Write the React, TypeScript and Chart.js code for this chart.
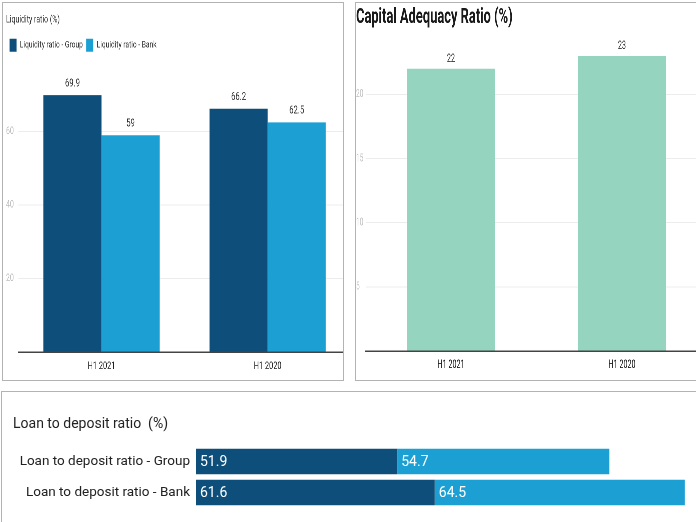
import React, { useEffect, useRef } from 'react';
import { Chart, registerables } from 'chart.js';

Chart.register(...registerables);

// ---- data ----
const periods = ['H1 2021', 'H1 2020'];
const liquidityGroup = [69.9, 66.2];
const liquidityBank = [59, 62.5];
const liquidityTicks = [20, 40, 60];

const capitalAdequacy = [22, 23];
const capitalTicks = [5, 10, 15, 20];

const loanCategories = ['Loan to deposit ratio - Group', 'Loan to deposit ratio - Bank'];
const loanH12021 = [51.9, 61.6];
const loanH12020 = [54.7, 64.5];

// ---- styles ----
const DARK = '#0d4f7a';
const LIGHT = '#1ca0d4';
const GREEN = '#95d5bf';
const ROBOTO = 'Roboto, "Noto Sans", sans-serif';

// horizontal squeeze of the two upper panels (their lettering is narrow)
const SQ_LEFT = 0.7;
const SQ_RIGHT = 0.6;

const valueLabels = {
  id: 'valueLabels',
  afterDatasetsDraw(chart: any, _args: any, opts: any) {
    const { ctx } = chart;
    chart.data.datasets.forEach((ds: any, i: number) => {
      const meta = chart.getDatasetMeta(i);
      meta.data.forEach((el: any, j: number) => {
        const v = ds.data[j];
        const p = el.getProps(['x', 'y', 'base'], true);
        ctx.save();
        ctx.font = opts.font;
        ctx.fillStyle = opts.color;
        if (opts.mode === 'top') {
          ctx.textAlign = 'center';
          ctx.textBaseline = 'bottom';
          ctx.fillText(String(v), p.x, p.y - opts.offset);
        } else {
          ctx.textAlign = 'left';
          ctx.textBaseline = 'middle';
          ctx.fillText(String(v), p.base + opts.offset, p.y + 1);
        }
        ctx.restore();
      });
    });
  },
};

function useChart(ref: React.RefObject<HTMLCanvasElement | null>, makeConfig: () => any) {
  useEffect(() => {
    if (!ref.current) return;
    const chart = new Chart(ref.current, makeConfig());
    return () => chart.destroy();
  }, []);
}

function LiquidityChart() {
  const ref = useRef<HTMLCanvasElement>(null);
  const W = 514;
  const H = 377;
  useChart(ref, () => ({
    type: 'bar',
    plugins: [valueLabels],
    data: {
      labels: periods,
      datasets: [
        { label: 'Liquidity ratio - Group', data: liquidityGroup, backgroundColor: DARK, categoryPercentage: 0.7, barPercentage: 1 },
        { label: 'Liquidity ratio - Bank', data: liquidityBank, backgroundColor: LIGHT, categoryPercentage: 0.7, barPercentage: 1 },
      ],
    },
    options: {
      responsive: false,
      devicePixelRatio: 2,
      animation: false,
      events: [],
      layout: { padding: { left: 4.3, right: 17.6, top: 0, bottom: 0 } },
      plugins: {
        title: {
          display: true, text: 'Liquidity ratio (%)', align: 'start', color: '#333',
          font: { family: ROBOTO, size: 10, weight: 'normal' }, padding: { top: 11, bottom: 7.7 },
        },
        legend: {
          display: true, align: 'start',
          labels: { boxWidth: 10, boxHeight: 13, padding: 5, color: '#333', font: { family: ROBOTO, size: 9.5 } },
        },
        tooltip: { enabled: false },
        valueLabels: { mode: 'top', offset: 6, color: '#333', font: '11px ' + ROBOTO },
      },
      scales: {
        x: {
          grid: { display: false, drawTicks: false },
          border: { display: true, color: '#444', width: 1.5 },
          ticks: { color: '#222', font: { family: ROBOTO, size: 10.5 }, padding: 8 },
          afterFit: (s: any) => { s.height = 28; },
        },
        y: {
          min: 0, max: 79,
          border: { display: false },
          grid: { drawTicks: false, color: (c: any) => (liquidityTicks.includes(c.tick?.value) ? '#ececec' : 'rgba(0,0,0,0)') },
          ticks: {
            stepSize: 20, color: '#bbb', font: { family: ROBOTO, size: 10 }, crossAlign: 'far', padding: 0,
            callback: (v: any) => (liquidityTicks.includes(v) ? String(v) : ''),
          },
          afterFit: (s: any) => { s.width = 17.8; },
        },
      },
    },
  }));
  return (
    <canvas ref={ref} width={W} height={H}
      style={{ position: 'absolute', left: 0, top: 0, width: W * SQ_LEFT, height: H }} />
  );
}

function CapitalChart() {
  const ref = useRef<HTMLCanvasElement>(null);
  const W = 610;
  const H = 377;
  useChart(ref, () => ({
    type: 'bar',
    plugins: [valueLabels],
    data: {
      labels: periods,
      datasets: [
        { label: 'Capital Adequacy Ratio', data: capitalAdequacy, backgroundColor: GREEN, categoryPercentage: 1, barPercentage: 0.515 },
      ],
    },
    options: {
      responsive: false,
      devicePixelRatio: 2,
      animation: false,
      events: [],
      layout: { padding: { left: 0, right: 24.2, top: 0, bottom: 0 } },
      plugins: {
        title: {
          display: true, text: 'Capital Adequacy Ratio (%)', align: 'start', color: '#1a1a1a',
          font: { family: ROBOTO, size: 21.5, weight: 'bold' }, padding: { top: 1.5, bottom: 0 },
        },
        legend: { display: false },
        tooltip: { enabled: false },
        valueLabels: { mode: 'top', offset: 4, color: '#333', font: '12px ' + ROBOTO },
      },
      scales: {
        x: {
          grid: { display: false, drawTicks: false },
          border: { display: true, color: '#444', width: 1.5 },
          ticks: { color: '#222', font: { family: ROBOTO, size: 12 }, padding: 7 },
          afterFit: (s: any) => { s.height = 29; },
        },
        y: {
          min: 0, max: 25,
          border: { display: false },
          grid: { drawTicks: false, color: (c: any) => (capitalTicks.includes(c.tick?.value) ? '#ececec' : 'rgba(0,0,0,0)') },
          ticks: {
            stepSize: 5, color: '#c4c4c4', font: { family: ROBOTO, size: 11 }, crossAlign: 'far', padding: 0,
            callback: (v: any) => (capitalTicks.includes(v) ? String(v) : ''),
          },
          afterFit: (s: any) => { s.width = 15.8; },
        },
      },
    },
  }));
  return (
    <canvas ref={ref} width={W} height={H}
      style={{ position: 'absolute', left: 0, top: 0, width: W * SQ_RIGHT, height: H }} />
  );
}

function LoanChart() {
  const ref = useRef<HTMLCanvasElement>(null);
  useChart(ref, () => ({
    type: 'bar',
    plugins: [valueLabels],
    data: {
      labels: loanCategories,
      datasets: [
        { label: 'H1 2021', data: loanH12021, backgroundColor: DARK, categoryPercentage: 1, barPercentage: 0.825 },
        { label: 'H1 2020', data: loanH12020, backgroundColor: LIGHT, categoryPercentage: 1, barPercentage: 0.825 },
      ],
    },
    options: {
      indexAxis: 'y',
      responsive: false,
      animation: false,
      events: [],
      layout: { padding: { left: 11, right: 2, top: 0, bottom: 13 } },
      plugins: {
        title: {
          display: true, text: 'Loan to deposit ratio  (%)', align: 'start', color: '#222',
          font: { family: ROBOTO, size: 14, weight: 'normal' }, padding: { top: 24, bottom: 13.2 },
        },
        legend: { display: false },
        tooltip: { enabled: false },
        valueLabels: { mode: 'inside', offset: 4, color: '#ffffff', font: '14px ' + ROBOTO },
      },
      scales: {
        x: { stacked: true, display: false, min: 0, max: 130 },
        y: {
          stacked: true,
          border: { display: false },
          grid: { display: false, drawTicks: false },
          ticks: { color: '#222', font: { family: ROBOTO, size: 13.5 }, padding: 6 },
          afterFit: (s: any) => { s.width = 183; },
        },
      },
    },
  }));
  return <canvas ref={ref} width={700} height={130} style={{ position: 'absolute', left: 0, top: 0 }} />;
}

const panel = (left: number, top: number, width: number, height: number): React.CSSProperties => ({
  position: 'absolute', left, top, width, height, boxSizing: 'border-box',
  border: '1px solid #b3b3b3', overflow: 'hidden', background: '#fff',
});

export default function App() {
  return (
    <div style={{ position: 'fixed', left: 0, top: 0, width: 696, height: 522, overflow: 'hidden', background: '#fff' }}>
      <div style={panel(2, 2, 342, 379)}>
        <LiquidityChart />
      </div>
      <div style={panel(355, 2, 420, 379)}>
        <CapitalChart />
      </div>
      <div style={panel(1, 391, 720, 140)}>
        <LoanChart />
      </div>
    </div>
  );
}
